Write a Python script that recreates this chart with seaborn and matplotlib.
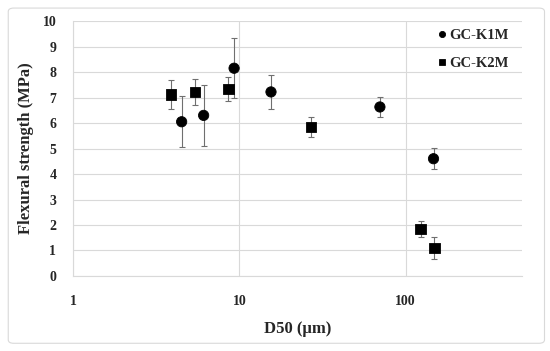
import matplotlib
matplotlib.use("Agg")
import matplotlib.pyplot as plt
import seaborn as sns
import pandas as pd
from matplotlib.patches import FancyBboxPatch

# data
k1_d50 = [4.5, 6.1, 9.3, 15.5, 70, 147]
k1_fs = [6.05, 6.3, 8.15, 7.22, 6.63, 4.6]
k1_err = [1.0, 1.2, 1.18, 0.65, 0.4, 0.42]

k2_d50 = [3.9, 5.4, 8.6, 27, 123, 149]
k2_fs = [7.12, 7.22, 7.33, 5.84, 1.84, 1.1]
k2_err = [0.57, 0.52, 0.48, 0.4, 0.3, 0.42]

series_names = ["GC-K1M", "GC-K2M"]

df = pd.DataFrame({
    "d50": k1_d50 + k2_d50,
    "fs": k1_fs + k2_fs,
    "err": k1_err + k2_err,
    "series": [series_names[0]] * len(k1_d50) + [series_names[1]] * len(k2_d50),
})

sns.set_style("white")
plt.rcParams["font.family"] = ["Liberation Serif", "DejaVu Serif"]
plt.rcParams["font.weight"] = "bold"

fig = plt.figure(figsize=(5.5, 3.51), dpi=100)
ax = fig.add_axes([0.1327, 0.2137, 0.8163, 0.7263])

# outer chart frame
frame = FancyBboxPatch((0.015, 0.022), 0.975, 0.955, boxstyle="round,pad=0,rounding_size=0.01",
                       transform=fig.transFigure, facecolor="none", edgecolor="#d9d9d9", lw=0.8)
fig.patches.append(frame)

# error bars
ax.errorbar(df["d50"], df["fs"], yerr=df["err"], fmt="none", ecolor="#6f6f6f",
            elinewidth=0.8, capsize=2, capthick=0.8, zorder=2)

sns.scatterplot(data=df, x="d50", y="fs", style="series", markers=["o", "s"],
                color="black", s=55, edgecolor="black", ax=ax, zorder=3, legend=True)

ax.set_xscale("log")
ax.set_xlim(1, 500)
ax.set_ylim(0, 10)
ax.set_xticks([1, 10, 100])
ax.set_xticklabels(["1", "10", "100"])
ax.set_yticks(range(0, 11))
ax.minorticks_off()
ax.tick_params(axis="x", length=0, pad=14, labelsize=10)
ax.tick_params(axis="y", length=0, pad=12, labelsize=10)
for lab in ax.get_xticklabels() + ax.get_yticklabels():
    lab.set_fontweight("bold")

ax.grid(True, color="#d9d9d9", lw=0.8)
ax.set_axisbelow(True)
for side in ["top", "right"]:
    ax.spines[side].set_visible(False)
for side in ["left", "bottom"]:
    ax.spines[side].set_color("#d9d9d9")
    ax.spines[side].set_linewidth(0.8)

ax.set_xlabel("D50 (μm)", fontsize=12, fontweight="bold", labelpad=9)
ax.set_ylabel("Flexural strength (MPa)", fontsize=12, fontweight="bold", labelpad=6)

leg = ax.legend(loc="upper right", bbox_to_anchor=(1.0, 1.02), frameon=False,
                fontsize=10.5, handletextpad=0.0, labelspacing=1.0, markerscale=0.6,
                handlelength=1.0)
for t in leg.get_texts():
    t.set_fontweight("bold")

fig.savefig("out.png", dpi=100)
